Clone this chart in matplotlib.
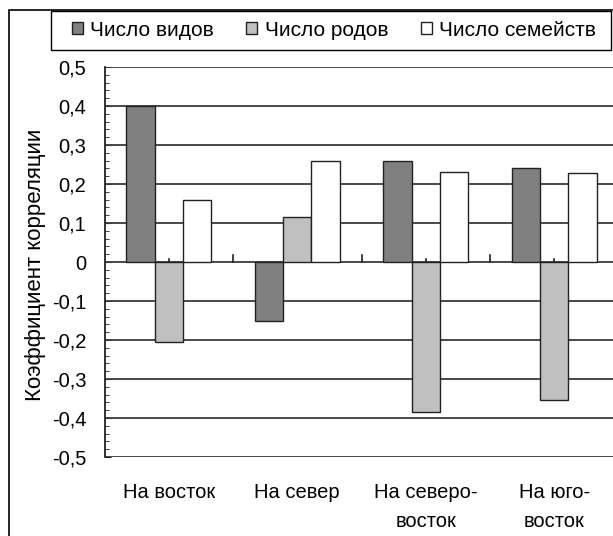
import matplotlib
matplotlib.use("Agg")
import matplotlib.pyplot as plt
import numpy as np
from matplotlib.patches import Rectangle, Patch

plt.rcParams['font.family'] = ['Liberation Sans', 'DejaVu Sans']

categories = ["На восток", "На север", "На северо-\nвосток", "На юго-\nвосток"]
series_names = ["Число видов", "Число родов", "Число семейств"]
species = [0.40, -0.15, 0.26, 0.24]
genera = [-0.205, 0.115, -0.385, -0.355]
families = [0.16, 0.26, 0.232, 0.228]
colors = ["#808080", "#c0c0c0", "#ffffff"]
y_ticks = [-0.5, -0.4, -0.3, -0.2, -0.1, 0, 0.1, 0.2, 0.3, 0.4, 0.5]
y_labels = ["-0,5", "-0,4", "-0,3", "-0,2", "-0,1", "0", "0,1", "0,2", "0,3", "0,4", "0,5"]

FS = 14.5
W, H = 613, 536
fig = plt.figure(figsize=(W / 100, H / 100), dpi=100)
fig.patch.set_facecolor("white")

# outer chart border (runs off the right and bottom edges)
fig.patches.append(Rectangle((9 / W, -0.1), 1.2, 1 - 10 / H + 0.1, transform=fig.transFigure,
                             fill=False, edgecolor="black", linewidth=1.2))

ax = fig.add_axes([104.5 / W, 1 - 457 / H, 514 / W, 390 / H])
ax.set_axisbelow(True)

x = np.arange(len(categories))
bw = 0.22
handles = []
for i, (vals, c, name) in enumerate(zip([species, genera, families], colors, series_names)):
    ax.bar(x + (i - 1) * bw, vals, width=bw, color=c, edgecolor="#222222", linewidth=1.0,
           zorder=3, label=name)
    handles.append(Patch(facecolor=c, edgecolor="#222222", linewidth=1.0, label=name))

ax.set_xlim(-0.5, 3.5)
ax.set_ylim(-0.5, 0.5)

for v in y_ticks:
    ax.axhline(v, color="#3a3a3a", linewidth=1.3, zorder=1)

ax.set_yticks(y_ticks)
ax.set_yticklabels(y_labels)
ax.set_yticks(np.arange(-0.5, 0.501, 0.02), minor=True)
ax.tick_params(axis="y", which="both", direction="in", labelsize=FS, pad=13, color="#222222")
ax.tick_params(axis="y", which="major", length=4)
ax.tick_params(axis="y", which="minor", length=3)

ax.spines["bottom"].set_visible(False)
ax.spines["top"].set_visible(False)
ax.spines["right"].set_visible(False)
ax.spines["left"].set_color("#222222")
ax.spines["left"].set_linewidth(1.3)

# category ticks on the zero line, pointing up
ax.set_xticks([])
for t in [0.5, 1.5, 2.5]:
    ax.plot([t, t], [0, 0.018], color="#222222", linewidth=1.2, zorder=2)
for t in x:
    ax.plot([t, t], [0, 0.008], color="#222222", linewidth=1.2, zorder=2)

for xi, lab in zip(x, categories):
    ax.text(xi, -0.566, lab, ha="center", va="top", fontsize=FS, linespacing=1.68,
            transform=ax.transData, clip_on=False)

fig.text(36 / W, 1 - 265 / H, "Коэффициент корреляции", rotation=90, ha="center", va="center",
         fontsize=16)

# legend box
fig.patches.append(Rectangle((51 / W, 1 - 50 / H), 560 / W, 39 / H, transform=fig.transFigure,
                             fill=False, edgecolor="black", linewidth=1.0))
fig.legend(handles=handles, loc="center left", bbox_to_anchor=(72 / W, 1 - 30 / H), ncol=3,
           frameon=False, fontsize=15, handlelength=0.53, handleheight=0.53,
           handletextpad=0.35, columnspacing=1.55, borderaxespad=0, borderpad=0)

fig.savefig("out.png", dpi=100)
